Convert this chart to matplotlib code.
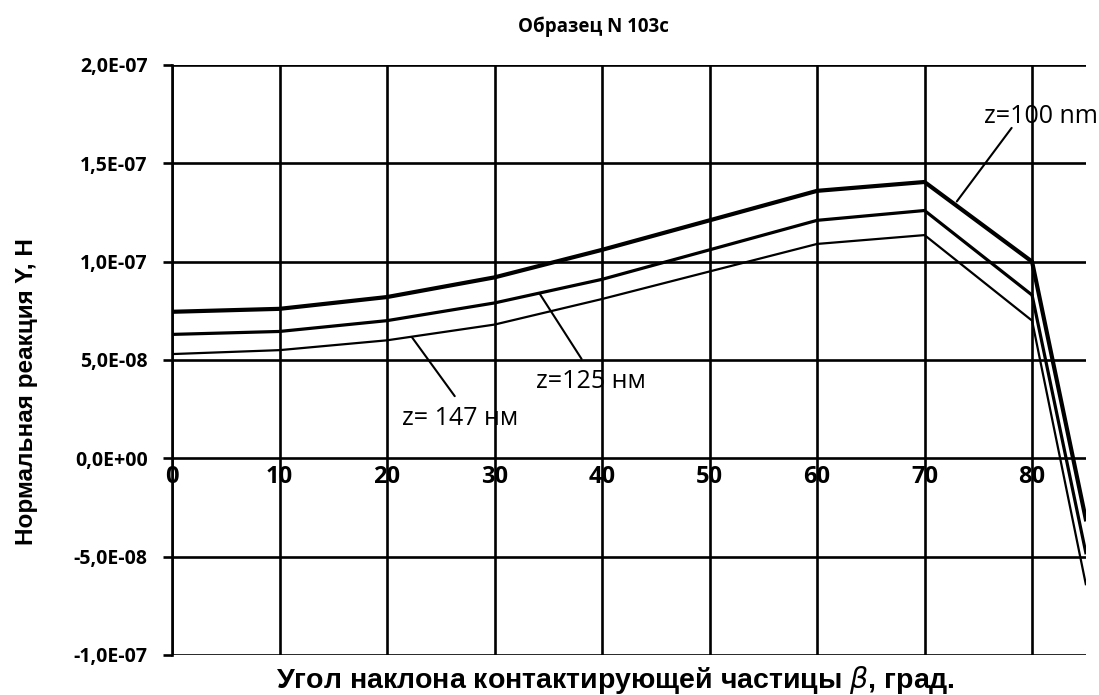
import matplotlib
matplotlib.use("Agg")
import matplotlib.pyplot as plt
from matplotlib.ticker import FuncFormatter

# angle of the contacting particle, degrees
angles = [0, 10, 20, 30, 40, 50, 60, 70, 80, 85]
# normal reaction Y, N
y_100 = [7.45e-8, 7.6e-8, 8.2e-8, 9.2e-8, 1.06e-7, 1.21e-7, 1.36e-7, 1.405e-7, 1.0e-7, -3.1e-8]
y_125 = [6.3e-8, 6.45e-8, 7.0e-8, 7.9e-8, 9.1e-8, 1.06e-7, 1.21e-7, 1.26e-7, 8.3e-8, -4.8e-8]
y_147 = [5.3e-8, 5.5e-8, 6.0e-8, 6.8e-8, 8.1e-8, 9.5e-8, 1.09e-7, 1.135e-7, 7.0e-8, -6.4e-8]
xticks = [0, 10, 20, 30, 40, 50, 60, 70, 80]
yticks = [-1e-7, -5e-8, 0, 5e-8, 1e-7, 1.5e-7, 2e-7]

fig = plt.figure(figsize=(10.99, 6.95), dpi=100)
ax = fig.add_axes([0.1565, 0.0576, 0.8315, 0.8489])

ax.plot(angles, y_100, color="black", lw=3.0, solid_joinstyle="miter", zorder=3)
ax.plot(angles, y_125, color="black", lw=2.3, solid_joinstyle="miter", zorder=3)
ax.plot(angles, y_147, color="black", lw=1.6, solid_joinstyle="miter", zorder=3)

ax.set_xlim(0, 85)
ax.set_ylim(-1e-7, 2e-7)
ax.set_xticks(xticks)
ax.set_yticks(yticks)
ax.grid(True, color="black", lw=1.9)


def sci_comma(v, pos):
    return ("%.1E" % v).replace(".", ",")


ax.yaxis.set_major_formatter(FuncFormatter(sci_comma))

for s in ["top", "right"]:
    ax.spines[s].set_visible(False)
ax.spines["left"].set_linewidth(1.9)
ax.spines["bottom"].set_position(("data", 0))
ax.spines["bottom"].set_visible(False)

ax.tick_params(axis="y", length=6.5, width=1.9, pad=11, labelsize=14)
ax.tick_params(axis="x", length=0, pad=5, labelsize=17)
for lb in ax.get_yticklabels() + ax.get_xticklabels():
    lb.set_fontfamily("Open Sans")
    lb.set_fontweight("bold")

# labels with leader lines
leader = dict(arrowstyle="-", color="black", lw=1.5, shrinkA=0, shrinkB=0)
ax.annotate("", xy=(73.0, 1.306e-7), xytext=(78.1, 1.68e-7), arrowprops=leader)
ax.text(75.5, 1.74e-7, "z=100 nm", fontsize=18, family="Open Sans", ha="left", va="center")
ax.annotate("", xy=(34.2, 8.37e-8), xytext=(38.1, 5.05e-8), arrowprops=leader)
ax.text(39.0, 3.93e-8, "z=125 нм", fontsize=18, family="Open Sans", ha="center", va="center")
ax.annotate("", xy=(22.3, 6.17e-8), xytext=(26.3, 3.16e-8), arrowprops=leader)
ax.text(26.8, 2.04e-8, "z= 147 нм", fontsize=18, family="Open Sans", ha="center", va="center")

fig.text(0.54, 0.962, "Образец N 103с", ha="center", va="center",
         fontsize=13.5, family="Open Sans", fontweight="bold")
fig.text(0.024, 0.437, "Нормальная реакция Y, Н", rotation=90, ha="center", va="center",
         fontsize=17.5, family="Liberation Sans", fontweight="bold")
fig.text(0.56, 0.021, r"Угол наклона контактирующей частицы $\beta$, град.",
         ha="center", va="center", fontsize=20.5, family="Liberation Sans", fontweight="bold")

fig.savefig("out.png", dpi=100, facecolor="white")
